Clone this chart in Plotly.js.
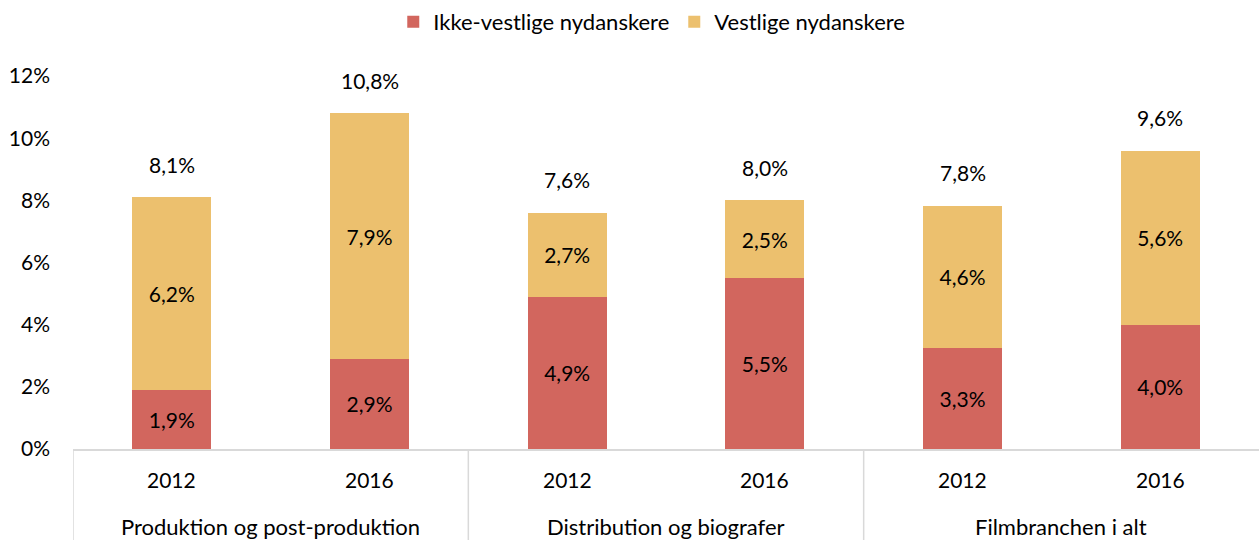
<!DOCTYPE html>
<html>
<head>
<meta charset="utf-8">
<script src="https://cdn.plot.ly/plotly-3.0.1.min.js"></script>
<style>html,body{margin:0;padding:0;background:#fff;}#chart{width:1260px;height:540px;}</style>
</head>
<body>
<div id="chart"></div>
<script>
var groups = ["Produktion og post-produktion", "Produktion og post-produktion",
              "Distribution og biografer", "Distribution og biografer",
              "Filmbranchen i alt", "Filmbranchen i alt"];
var years = ["2012", "2016", "2012", "2016", "2012", "2016"];
var ikkeVestlige = [1.9, 2.9, 4.9, 5.5, 3.25, 4.0];
var vestlige = [6.2, 7.9, 2.7, 2.5, 4.57, 5.6];
var seriesNames = ["Ikke-vestlige nydanskere", "Vestlige nydanskere"];

function fmt(v) { return v.toFixed(1).replace('.', ',') + '%'; }
var totals = ikkeVestlige.map(function (v, i) { return v + vestlige[i]; });

var FONT = "Lato, 'Open Sans', sans-serif";
var numFont = {family: FONT, size: 21, color: '#000'};
var txtFont = {family: FONT, size: 22, color: '#000'};
var LINE = '#d9d9d9';

var traces = [
  {type: 'bar', name: seriesNames[0], x: [groups, years], y: ikkeVestlige,
   marker: {color: '#D2665E'}, text: ikkeVestlige.map(fmt), textposition: 'inside',
   insidetextanchor: 'middle', textfont: numFont, hoverinfo: 'none'},
  {type: 'bar', name: seriesNames[1], x: [groups, years], y: vestlige,
   marker: {color: '#ECC06E'}, text: vestlige.map(fmt), textposition: 'inside',
   insidetextanchor: 'middle', textfont: numFont, hoverinfo: 'none'}
];

var annotations = totals.map(function (t, i) {
  return {x: i, y: t, xref: 'x', yref: 'y', text: fmt(t), showarrow: false,
          yshift: 33, font: numFont};
});
// year labels
years.forEach(function (yr, i) {
  annotations.push({x: i, y: -0.083, xref: 'x', yref: 'paper', text: yr, showarrow: false,
                    yanchor: 'middle', font: numFont});
});
// group labels and dividers
var shapes = [];
var uniq = [];
groups.forEach(function (g, i) {
  var last = uniq[uniq.length - 1];
  if (!last || last.name !== g) uniq.push({name: g, start: i, end: i});
  else last.end = i;
});
uniq.forEach(function (g) {
  annotations.push({x: (g.start + g.end) / 2, y: -0.209, xref: 'x', yref: 'paper', text: g.name,
                    showarrow: false, yanchor: 'middle', font: txtFont});
  shapes.push({type: 'line', xref: 'x', yref: 'paper', x0: g.start - 0.5, x1: g.start - 0.5,
               y0: 0, y1: -0.25, line: {color: LINE, width: 1.5}});
});

var layout = {
  width: 1260, height: 540,
  margin: {l: 73, r: 1, t: 76, b: 91, autoexpand: false},
  barmode: 'stack', bargap: 0.6,
  paper_bgcolor: '#fff', plot_bgcolor: '#fff',
  font: {family: FONT, size: 21, color: '#000'},
  showlegend: true,
  legend: {orientation: 'h', x: 0.488, xanchor: 'center', y: 1.145, yanchor: 'middle',
           font: txtFont, traceorder: 'normal'},
  xaxis: {type: 'multicategory', showline: true, linecolor: LINE, linewidth: 1.5,
          showdividers: false, showticklabels: false, ticks: '', range: [-0.5, 5.5]},
  yaxis: {range: [0, 12], dtick: 2, ticksuffix: '%', showgrid: false, zeroline: false,
          showline: false, ticks: '', ticklabelstandoff: 22, tickfont: numFont},
  annotations: annotations,
  shapes: shapes
};

Plotly.newPlot('chart', traces, layout, {displayModeBar: false, staticPlot: true});
</script>
</body>
</html>
